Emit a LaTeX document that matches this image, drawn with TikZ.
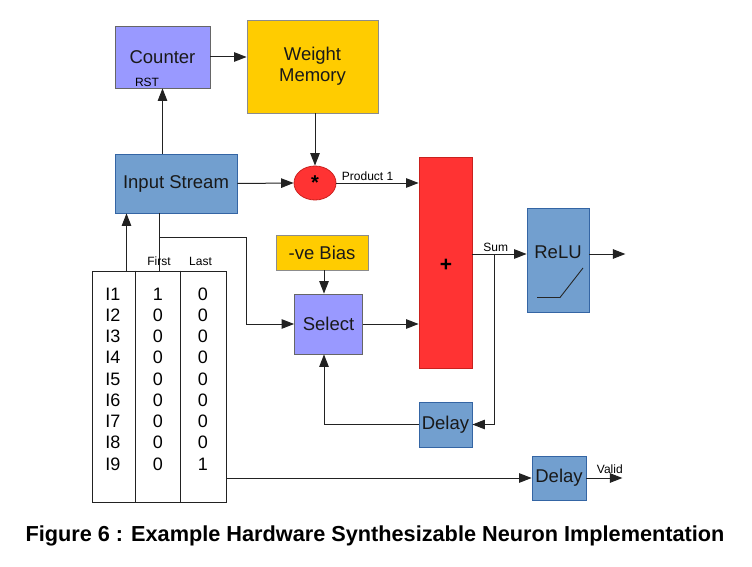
\documentclass[tikz,border=0pt]{standalone}
\usepackage{fontspec}
\setmainfont{Liberation Sans}
\usetikzlibrary{arrows.meta,calc,shapes.geometric}
\definecolor{lav}{HTML}{9999FF}
\definecolor{gold}{HTML}{FFCC00}
\definecolor{bluebox}{HTML}{729FCF}
\definecolor{bluedraw}{HTML}{3465A4}
\definecolor{redbox}{HTML}{FF3333}
\definecolor{reddraw}{HTML}{C9211E}
\definecolor{linec}{HTML}{222222}
\tikzset{
  box/.style={rectangle,inner sep=0pt,line width=0.8pt,font=\fontsize{18.5}{21}\selectfont,text=black!90,align=center},
  lavbox/.style={box,fill=lav,draw=black!60},
  goldbox/.style={box,fill=gold,draw=black!45},
  bluebx/.style={box,fill=bluebox,draw=bluedraw},
  redbx/.style={box,fill=redbox,draw=reddraw},
  small/.style={font=\fontsize{12}{14}\selectfont,inner sep=1pt},
  cell/.style={font=\fontsize{18}{20}\selectfont,inner sep=0pt},
  arr/.style={draw=linec,line width=1pt,-{Triangle[length=12.5pt,width=9.5pt]}},
  ln/.style={draw=linec,line width=1pt},
}
\begin{document}
\begin{tikzpicture}[x=1pt,y=-1pt]
\useasboundingbox (0,0) rectangle (752,567);
% boxes
\node[lavbox,minimum width=95pt,minimum height=62pt] (counter) at (162.5,57) {Counter};
\node[small] (rst) at (147,82) {RST};
\node[goldbox,minimum width=131pt,minimum height=93pt] (wmem) at (312.5,66.5) {\rule{0pt}{0pt}Weight\\[0pt]Memory};
\node[bluebx,minimum width=122pt,minimum height=59pt] (instream) at (176,183.5) {\raisebox{-1.5pt}{Input Stream}};
\node[ellipse,fill=redbox,draw=reddraw,line width=0.8pt,minimum width=42pt,minimum height=34pt,inner sep=0pt,font=\bfseries\fontsize{20}{20}\selectfont] (mult) at (315,183) {*};
\node[redbx,minimum width=53pt,minimum height=211pt] (adder) at (445.5,262.5) {};
\node[font=\bfseries\fontsize{21}{21}\selectfont,inner sep=0pt] (plus) at (446,265) {+};
\node[goldbox,minimum width=92pt,minimum height=35pt] (bias) at (322,252.5) {-ve Bias};
\node[lavbox,minimum width=68pt,minimum height=60pt] (select) at (328.5,324) {\raisebox{-1pt}{Select}};
\node[bluebx,minimum width=62pt,minimum height=104pt] (relu) at (558,260) {};
\node[box,inner sep=0pt] (relutxt) at (558,252) {ReLU};
\draw[line width=0.9pt,black!85] (537,297.5) -- (560,297.5) -- (583,268);
\node[bluebx,minimum width=53pt,minimum height=45pt] (delay1) at (445.5,424.5) {\raisebox{-1.5pt}{Delay}};
\node[bluebx,minimum width=54pt,minimum height=44pt] (delay2) at (559,478) {\raisebox{-1.5pt}{Delay}};
% table
\node[rectangle,draw=linec,line width=1pt,fill=white,minimum width=134pt,minimum height=231pt,inner sep=0pt] (tbl) at (159,386.5) {};
\draw[ln] ($(tbl.north west)+(44,0)$) -- ($(tbl.south west)+(44,0)$);
\draw[ln] ($(tbl.north west)+(89,0)$) -- ($(tbl.south west)+(89,0)$);
\foreach \i/\f/\l in {1/1/0,2/0/0,3/0/0,4/0/0,5/0/0,6/0/0,7/0/0,8/0/0,9/0/1}{
  \node[cell] (in\i) at (113,{294+(\i-1)*21.25}) {I\i};
  \node[cell] (fi\i) at (158,{294+(\i-1)*21.25}) {\f};
  \node[cell] (la\i) at (203,{294+(\i-1)*21.25}) {\l};
}
% connectors
\coordinate (ta) at ($(tbl.north west)+(35,0)$);
\coordinate (tb) at ($(tbl.north west)+(68,0)$);
\draw[ln] (tb) -- (tb |- instream.south);
\node[small] (first) at (159,261) {First};
\node[small] (last) at (200.5,261) {Last};
\draw[arr] (ta) -- (ta |- instream.south);
\draw[arr] ($(tb)+(0,-33)$) -| ($(select.west)+(-48,0)$) -- (select.west);
\draw[arr] (counter.south |- instream.north) -- (counter.south);
\draw[arr] (counter.east) -- (wmem.west |- counter.east);
\draw[arr] (mult.north |- wmem.south) -- (mult.north);
\draw[arr] (instream.east) -- (mult.west);
\draw[arr] (mult.east) -- (mult.east -| adder.west) node[small,pos=0.38,above,yshift=1pt] {Product 1};
\draw[arr] ($(bias.south)+(2,0)$) -- ($(select.north)+(-4.5,0)$);
\draw[arr] (select.east) -- (select.east -| adder.west);
\coordinate (s) at ($(adder.east)+(0,-8.5)$);
\draw[arr] (s) -- (s -| relu.west) node[small,pos=0.43,above,yshift=1pt] {Sum};
\draw[arr] ($(s)+(22,0)$) |- (delay1.east);
\draw[arr] (delay1.west) -| ($(select.south)+(-4.5,0)$);
\coordinate (reluout) at ($(relu.east |- s)+(36,0)$);
\draw[arr] (relu.east |- s) -- (reluout);
\draw[arr] ($(tbl.south east)+(0,-24.5)$) -- (delay2.west);
\coordinate (validout) at ($(delay2.east)+(36,0)$);
\draw[arr] (delay2.east) -- (validout) node[small,pos=0.65,above,yshift=3pt] {Valid};
% caption
\node[font=\bfseries\fontsize{21.7}{24}\selectfont,inner sep=0pt] (caption) at (375,536) {Figure 6 : Example Hardware Synthesizable Neuron Implementation};
\end{tikzpicture}
\end{document}
